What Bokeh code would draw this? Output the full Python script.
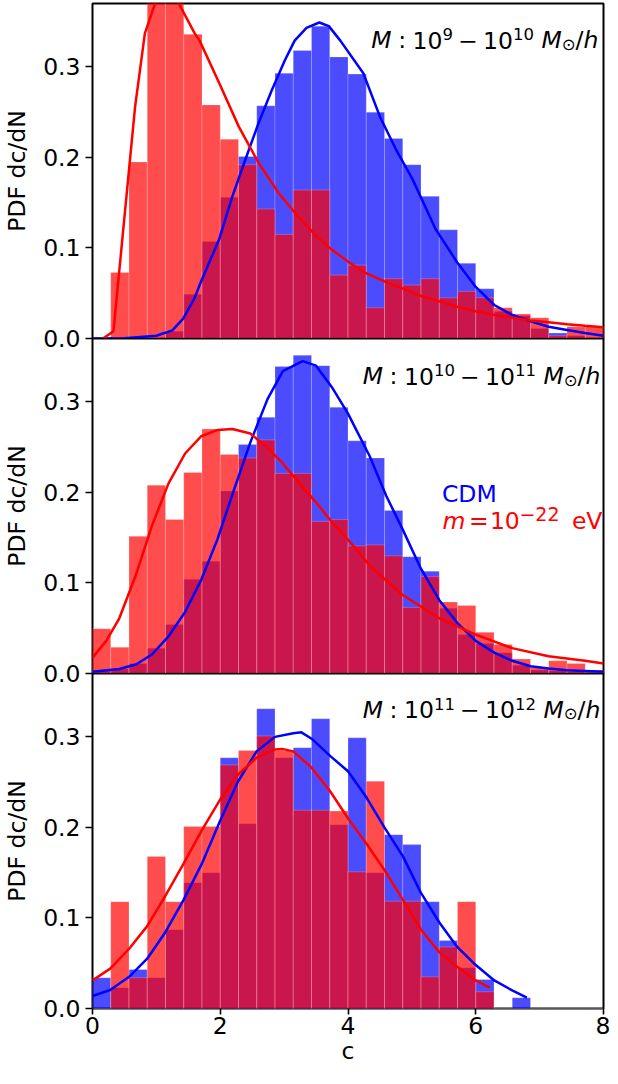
import numpy as np
from bokeh.plotting import figure
from bokeh.layouts import column
from bokeh.models import Range1d, FixedTicker, PrintfTickFormatter, Label
from bokeh.embed import file_html
from bokeh.resources import INLINE

# ---------------- data ----------------
BIN_EDGES = list(np.linspace(0, 8, 29))

# panel 1 : M 1e9 - 1e10
CDM_HIST_1 = [0, 0, 0, 0, 0.008, 0.049, 0.107, 0.156, 0.201, 0.257, 0.293, 0.318, 0.345, 0.311,
              0.292, 0.250, 0.221, 0.192, 0.157, 0.120, 0.083, 0.055, 0.030, 0.025, 0.011, 0.006, 0.003, 0.0]
FDM_HIST_1 = [0, 0.073, 0.195, 0.395, 0.385, 0.336, 0.258, 0.220, 0.192, 0.143, 0.115, 0.164, 0.164, 0.070,
              0.081, 0.034, 0.066, 0.059, 0.066, 0.045, 0.052, 0.045, 0.034, 0.027, 0.023, 0.003, 0.013, 0.013]
CDM_FIT_C_1 = [0, 0.5, 1.0, 1.25, 1.42, 1.6, 1.677, 1.985, 2.19, 2.395, 2.6, 2.805, 3.01, 3.165, 3.35, 3.55,
               3.7, 3.88, 4.24, 4.5, 4.75, 5.01, 5.37, 5.71, 6.0, 6.29, 6.57, 6.86, 7.14, 7.43, 7.71, 8.0]
CDM_FIT_V_1 = [0, 0.0003, 0.003, 0.009, 0.022, 0.045, 0.059, 0.110, 0.157, 0.198, 0.238, 0.274, 0.307, 0.329,
               0.343, 0.349, 0.345, 0.329, 0.293, 0.245, 0.209, 0.176, 0.121, 0.084, 0.057, 0.037, 0.026,
               0.019, 0.013, 0.0095, 0.006, 0.003]
FDM_FIT_C_1 = [0.164, 0.328, 0.667, 0.82, 0.985, 1.17, 1.344, 1.6, 1.677, 1.985, 2.29, 2.6, 2.91, 3.215, 3.52,
               3.73, 4.0, 4.24, 4.57, 4.86, 5.14, 5.43, 5.71, 6.0, 6.29, 6.57, 6.86, 7.14, 7.43, 7.71, 8.0]
FDM_FIT_V_1 = [0, 0.008, 0.256, 0.337, 0.371, 0.386, 0.371, 0.337, 0.329, 0.282, 0.234, 0.194, 0.161, 0.135,
               0.112, 0.099, 0.085, 0.0735, 0.063, 0.055, 0.047, 0.041, 0.035, 0.030, 0.026, 0.023, 0.020,
               0.018, 0.0157, 0.014, 0.0124]

# panel 2 : M 1e10 - 1e11
CDM_HIST_2 = [0.003, 0.005, 0.011, 0.028, 0.054, 0.104, 0.124, 0.2015, 0.253, 0.283, 0.339, 0.3515, 0.340, 0.294,
              0.257, 0.238, 0.180, 0.129, 0.113, 0.072, 0.043, 0.033, 0.023, 0.009, 0.004, 0.003, 0.002, 0.0]
FDM_HIST_2 = [0.0495, 0.029, 0.1515, 0.208, 0.170, 0.222, 0.270, 0.242, 0.238, 0.258, 0.221, 0.221, 0.168, 0.170,
              0.141, 0.142, 0.130, 0.073, 0.107, 0.079, 0.075, 0.0455, 0.032, 0.016, 0.007, 0.014, 0.011, 0.004]
CDM_FIT_C_2 = [0, 0.42, 0.68, 0.93, 1.19, 1.45, 1.70, 1.96, 2.22, 2.47, 2.74, 2.98, 3.29, 3.5, 3.75, 4.0,
               4.34, 4.6, 4.85, 5.14, 5.43, 5.71, 6.0, 6.29, 6.57, 6.86, 7.14, 7.43, 8.0]
CDM_FIT_V_2 = [0.002, 0.005, 0.010, 0.021, 0.041, 0.068, 0.103, 0.149, 0.204, 0.255, 0.303, 0.334, 0.345, 0.34,
               0.316, 0.287, 0.24, 0.196, 0.16, 0.116, 0.081, 0.056, 0.036, 0.023, 0.014, 0.008, 0.0055,
               0.0036, 0.002]
FDM_FIT_C_2 = [0, 0.215, 0.42, 0.68, 0.93, 1.19, 1.45, 1.70, 1.96, 2.19, 2.47, 2.73, 2.98, 3.24, 3.5, 3.75,
               4.06, 4.34, 4.85, 5.43, 6.0, 6.57, 7.14, 7.71, 8.0]
FDM_FIT_V_2 = [0.0175, 0.036, 0.061, 0.109, 0.163, 0.21, 0.243, 0.262, 0.269, 0.27, 0.265, 0.25, 0.232, 0.21,
               0.189, 0.167, 0.143, 0.119, 0.087, 0.061, 0.043, 0.028, 0.019, 0.014, 0.011]

# panel 3 : M 1e11 - 1e12
CDM_HIST_3 = [0.034, 0.023, 0.043, 0.034, 0.087, 0.139, 0.150, 0.277, 0.204, 0.331, 0.277, 0.288, 0.320, 0.203,
              0.299, 0.150, 0.192, 0.181, 0.118, 0.075, 0.045, 0.032, 0, 0.012, 0, 0, 0, 0]
FDM_HIST_3 = [0, 0.118, 0.034, 0.168, 0.118, 0.201, 0.201, 0.269, 0.285, 0.301, 0.285, 0.219, 0.219, 0.218,
              0.151, 0.251, 0.1185, 0.1185, 0.035, 0.068, 0.118, 0.0185, 0, 0, 0, 0, 0, 0]
CDM_FIT_C_3 = [0, 0.277, 0.574, 0.856, 1.138, 1.426, 1.713, 2.0, 2.28, 2.57, 2.856, 3.144, 3.27, 3.43, 3.72,
               4.0, 4.29, 4.57, 4.86, 5.14, 5.43, 5.71, 6.0, 6.29, 6.57, 6.8]
CDM_FIT_V_3 = [0.0138, 0.0204, 0.035, 0.055, 0.084, 0.120, 0.160, 0.2076, 0.251, 0.284, 0.300, 0.304, 0.305,
               0.298, 0.279, 0.262, 0.233, 0.2, 0.168, 0.128, 0.095, 0.068, 0.048, 0.031, 0.020, 0.012]
FDM_FIT_C_3 = [0, 0.277, 0.574, 0.856, 1.138, 1.426, 1.713, 2.0, 2.28, 2.57, 2.856, 2.985, 3.144, 3.43, 3.72,
               4.01, 4.29, 4.57, 4.86, 5.14, 5.43, 5.71, 6.0, 6.22]
FDM_FIT_V_3 = [0.031, 0.044, 0.066, 0.091, 0.124, 0.160, 0.197, 0.231, 0.2585, 0.277, 0.286, 0.2865, 0.284,
               0.266, 0.240, 0.209, 0.182, 0.153, 0.12, 0.0876, 0.062, 0.046, 0.031, 0.023]

X_TICKS = [0, 2, 4, 6, 8]
Y_TICKS = [0.0, 0.1, 0.2, 0.3]
Y_LABEL = "PDF dc/dN"
X_LABEL = "c"
MASS_EXPONENTS = [("9", "10"), ("10", "11"), ("11", "12")]

# ---------------- style ----------------
FONT = "DejaVu Sans"
FSZ = 23.5
FS = f"{FSZ}px"
RED = "#ff0000"
BLUE = "#0000ff"
YMAX = 0.37
TOP = 3
FRAME_H = 335
OVERLAP = 14
BOTTOM_AXIS = 59


def make_panel(height, top_border, bottom_border, show_x, margin):
    p = figure(width=610, height=height, output_backend="svg", toolbar_location=None,
               x_range=Range1d(0, 8), y_range=Range1d(0, YMAX),
               min_border_left=91, min_border_right=7,
               min_border_top=top_border, min_border_bottom=bottom_border,
               margin=margin)
    p.grid.visible = False
    p.outline_line_color = "black"
    p.outline_line_width = 2
    p.background_fill_color = "white"
    p.border_fill_alpha = 0
    for ax in (p.xaxis[0], p.yaxis[0]):
        ax.axis_line_color = None
        ax.major_tick_out = 7
        ax.major_tick_in = 0
        ax.major_tick_line_width = 1.6
        ax.minor_tick_line_color = None
        ax.major_label_text_font = FONT
        ax.major_label_text_font_size = FS
        ax.major_label_text_color = "black"
        ax.axis_label_text_font = FONT
        ax.axis_label_text_font_size = FS
        ax.axis_label_text_font_style = "normal"
        ax.axis_label_text_color = "black"
    p.yaxis.ticker = FixedTicker(ticks=Y_TICKS)
    p.yaxis.formatter = PrintfTickFormatter(format="%.1f")
    p.yaxis.axis_label = Y_LABEL
    p.yaxis.major_label_standoff = 5
    p.yaxis.axis_label_standoff = 9
    p.xaxis.ticker = FixedTicker(ticks=X_TICKS)
    p.xaxis.formatter = PrintfTickFormatter(format="%d")
    if show_x:
        p.xaxis.axis_label = X_LABEL
        p.xaxis.major_tick_out = 6
        p.xaxis.major_label_standoff = 2
        p.xaxis.axis_label_standoff = 0
    else:
        p.xaxis.visible = False
    return p


def draw(p, cdm_hist, fdm_hist, cdm_c, cdm_v, fdm_c, fdm_v):
    left = BIN_EDGES[:-1]
    right = BIN_EDGES[1:]
    p.quad(left=left, right=right, bottom=0, top=cdm_hist, fill_color=BLUE, fill_alpha=0.7,
           line_color="white", line_alpha=0.3, line_width=0.7)
    p.quad(left=left, right=right, bottom=0, top=fdm_hist, fill_color=RED, fill_alpha=0.7,
           line_color="white", line_alpha=0.3, line_width=0.7)
    p.line(cdm_c, cdm_v, line_color=BLUE, line_width=2.5)
    p.line(fdm_c, fdm_v, line_color=RED, line_width=2.5)


def txt(p, text, x_data, x_off, dy, size=FSZ, style="normal", color="black", raise_px=0):
    p.add_layout(Label(x=x_data, y=YMAX, x_offset=x_off, y_offset=-dy + raise_px,
                       text=text, text_font=FONT, text_font_size=f"{size}px",
                       text_font_style=style, text_color=color,
                       text_align="left", text_baseline="alphabetic"))


# DejaVu Sans advance widths (em)
EM = {"M_it": 0.863, ":": 0.337, "digit": 0.636, "minus": 0.838, "odot": 0.838, "/": 0.337, "h_it": 0.634}
SUP = 16.5


def title(p, end_x, dy, exp1, exp2):
    f = FSZ
    rel = 0.278 * f
    binsp = 0.222 * f
    pieces = []
    x = 0.0
    pieces.append(("M", x, FSZ, "italic", 0)); x += EM["M_it"] * f + rel
    pieces.append((":", x, FSZ, "normal", 0)); x += EM[":"] * f + rel
    pieces.append(("10", x, FSZ, "normal", 0)); x += 2 * EM["digit"] * f
    pieces.append((exp1, x, SUP, "normal", 6)); x += len(exp1) * EM["digit"] * SUP + binsp
    pieces.append(("\u2212", x, FSZ, "normal", 0)); x += EM["minus"] * f + binsp
    pieces.append(("10", x, FSZ, "normal", 0)); x += 2 * EM["digit"] * f
    pieces.append((exp2, x, SUP, "normal", 6)); x += len(exp2) * EM["digit"] * SUP + 0.318 * f
    pieces.append(("M", x, FSZ, "italic", 0)); x += EM["M_it"] * f
    pieces.append(("\u2299", x, SUP, "normal", -4)); x += EM["odot"] * SUP
    pieces.append(("/", x, FSZ, "normal", 0)); x += EM["/"] * f
    pieces.append(("h", x, FSZ, "italic", 0)); x += EM["h_it"] * f
    total = x
    for text, off, size, style, rz in pieces:
        txt(p, text, end_x, off - total, dy, size=size, style=style, raise_px=rz)


p1 = make_panel(TOP + FRAME_H + OVERLAP, TOP, OVERLAP, False, None)
draw(p1, CDM_HIST_1, FDM_HIST_1, CDM_FIT_C_1, CDM_FIT_V_1, FDM_FIT_C_1, FDM_FIT_V_1)
title(p1, 7.92, 36.5, *MASS_EXPONENTS[0])

p2 = make_panel(FRAME_H + OVERLAP, 0, OVERLAP, False, (-OVERLAP, 0, 0, 0))
draw(p2, CDM_HIST_2, FDM_HIST_2, CDM_FIT_C_2, CDM_FIT_V_2, FDM_FIT_C_2, FDM_FIT_V_2)
title(p2, 7.95, 37.5, *MASS_EXPONENTS[1])
LEG_X = 5.47
txt(p2, "CDM", LEG_X, 0, 155.7, color=BLUE)
txt(p2, "m", LEG_X, 0.5, 182.3, size=23.5, style="italic", color=RED)
txt(p2, "=", LEG_X, 27, 182.3, color=RED)
txt(p2, "10", LEG_X, 48, 182.3, color=RED)
txt(p2, "\u221222", LEG_X, 77.5, 182.3, size=19, color=RED, raise_px=7)
txt(p2, "eV", LEG_X, 130, 182.3, color=RED)

p3 = make_panel(FRAME_H + BOTTOM_AXIS, 0, BOTTOM_AXIS, True, (-OVERLAP, 0, 0, 0))
draw(p3, CDM_HIST_3, FDM_HIST_3, CDM_FIT_C_3, CDM_FIT_V_3, FDM_FIT_C_3, FDM_FIT_V_3)
title(p3, 7.95, 36, *MASS_EXPONENTS[2])

layout = column(p1, p2, p3, spacing=0)
open("out.html", "w").write(file_html(layout, INLINE))
